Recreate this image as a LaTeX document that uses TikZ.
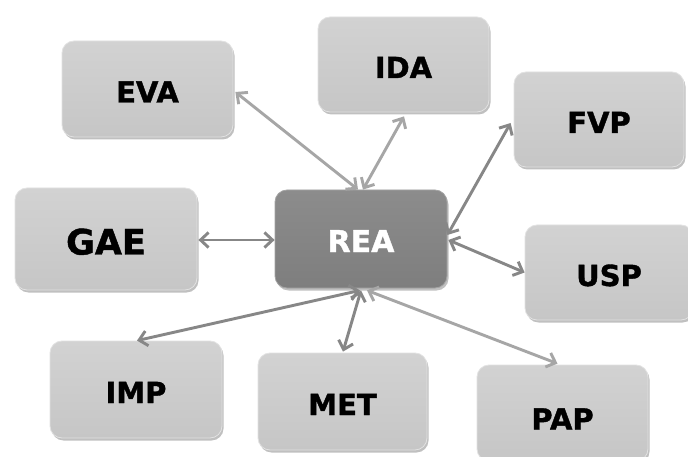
\documentclass[tikz,border=0pt]{standalone}
\usepackage{fontspec}
\setmainfont{DejaVu Sans}[BoldFeatures={FakeBold=1.3}]
\usetikzlibrary{arrows.meta,shadows}

\definecolor{boxtop}{HTML}{D2D2D2}
\definecolor{boxbot}{HTML}{C6C6C6}
\definecolor{boxrim}{HTML}{E2E2E2}
\definecolor{hubtop}{HTML}{8C8C8C}
\definecolor{hubbot}{HTML}{7E7E7E}
\definecolor{linklight}{HTML}{A6A6A6}
\definecolor{linkdark}{HTML}{878787}

\tikzset{
  x=1pt, y=-1pt,
  card/.style={
    rounded corners=12pt, draw=boxrim, line width=0.8pt,
    top color=boxtop, bottom color=boxbot,
    drop shadow={shadow xshift=1.5pt, shadow yshift=-2.5pt, opacity=0.35, fill=black!70},
    minimum width=171pt, minimum height=96pt, inner sep=0pt,
    font=\bfseries\fontsize{29}{32}\selectfont, text=black,
    text height=27pt, text depth=0pt
  },
  hub/.style={card, top color=hubtop, bottom color=hubbot, draw=hubtop!80!white,
    text=white, font=\bfseries\fontsize{30}{33}\selectfont, text height=26pt},
  link/.style={line width=2.9pt, {Straight Barb[length=8pt,width=15pt]}-{Straight Barb[length=8pt,width=15pt]}},
  lightlink/.style={link, draw=linklight},
  darklink/.style={link, draw=linkdark}
}

\begin{document}
\begin{tikzpicture}
\useasboundingbox[fill=white] (0,0) rectangle (688,457);

% outer cards
\node[card] (eva) at (147.5,89) {EVA};
\node[card, minimum height=95pt] (ida) at (403.5,64.5) {IDA};
\node[card, minimum width=170pt, minimum height=95pt] (fvp) at (599,119.5) {FVP};
\node[card, minimum width=182pt, minimum height=102pt,
      font=\bfseries\fontsize{35}{38}\selectfont, text height=31pt] (gae) at (106,239) {GAE};
\node[card, minimum width=168pt, minimum height=95pt] (usp) at (609,272.5) {USP};
\node[card, minimum width=172pt, minimum height=97pt] (imp) at (136,389.5) {IMP};
\node[card, minimum width=169pt, minimum height=97pt] (met) at (342.5,401.5) {MET};
\node[card, text height=33pt] (pap) at (562.5,413) {PAP};

% central card
\node[hub, minimum width=172pt, minimum height=98pt] (rea) at (361,239) {REA};

% links to the central card
\draw[lightlink] ([shift={(2,3)}]eva.east) -- ([shift={(-3,0)}]rea.north);
\draw[lightlink] ([shift={(0.5,4)}]ida.south) -- ([shift={(2,0)}]rea.north);
\draw[darklink]  ([shift={(-3,3.5)}]fvp.west) -- ([shift={(0,-4)}]rea.east);
\draw[darklink]  ([shift={(1,1)}]gae.east) -- ([shift={(0,1)}]rea.west);
\draw[darklink]  ([shift={(1,1)}]rea.east) -- (usp.west);
\draw[darklink]  ([shift={(-1,2)}]rea.south) -- ([shift={(1,0)}]imp.north);
\draw[darklink]  ([shift={(0,2)}]rea.south) -- ([shift={(0.5,-1)}]met.north);
\draw[lightlink] ([shift={(6,2)}]rea.south) -- ([shift={(-5,-1)}]pap.north);
\end{tikzpicture}
\end{document}
